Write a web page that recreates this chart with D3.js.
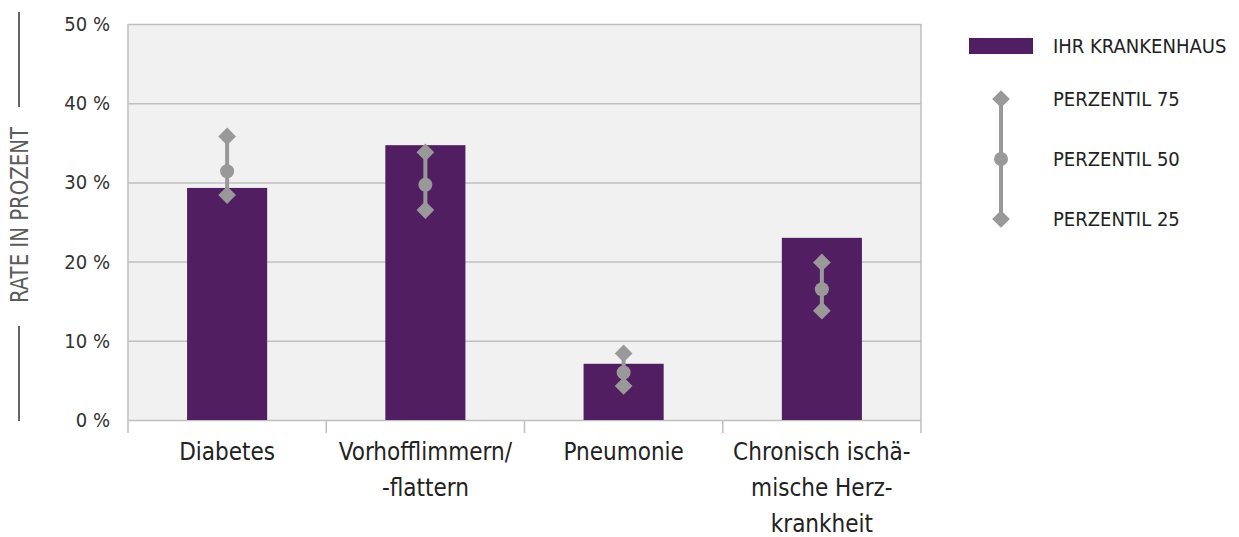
<!DOCTYPE html>
<html>
<head>
<meta charset="utf-8">
<script src="https://cdn.jsdelivr.net/npm/d3@7"></script>
<style>
  html, body { margin: 0; padding: 0; background: #fff; }
  svg { display: block; font-family: "DejaVu Sans Condensed", "DejaVu Sans", sans-serif; }
</style>
</head>
<body>
<svg id="chart" width="1239" height="537"></svg>
<script>
// Indicator rates per diagnosis group
const categories = [
  ["Diabetes"],
  ["Vorhofflimmern/", "-flattern"],
  ["Pneumonie"],
  ["Chronisch ischä-", "mische Herz-", "krankheit"]
];
const hospitalRate = [29.3, 34.7, 7.1, 23.0];   // IHR KRANKENHAUS
const perzentil75  = [35.8, 33.8, 8.4, 19.9];
const perzentil50  = [31.4, 29.7, 6.0, 16.5];
const perzentil25  = [28.4, 26.5, 4.3, 13.8];
const yTicks = [0, 10, 20, 30, 40, 50];
const legendLabels = ["IHR KRANKENHAUS", "PERZENTIL 75", "PERZENTIL 50", "PERZENTIL 25"];
const yTitle = "RATE IN PROZENT";

const barColor = "#521e62";
const markColor = "#999999";
const gridColor = "#bfbfbf";

const svg = d3.select("#chart");
const plot = { left: 128, right: 921, top: 24, bottom: 420 };

const x = d3.scaleBand()
  .domain(d3.range(categories.length))
  .range([plot.left, plot.right])
  .padding(0);
const y = d3.scaleLinear().domain([0, 50]).range([plot.bottom, plot.top]);

// plot background
svg.append("rect")
  .attr("x", plot.left).attr("y", plot.top)
  .attr("width", plot.right - plot.left).attr("height", plot.bottom - plot.top)
  .attr("fill", "#f1f1f1");

// horizontal gridlines + y tick labels
const yAxis = d3.axisLeft(y)
  .tickValues(yTicks)
  .tickSize(-(plot.right - plot.left))
  .tickPadding(18)
  .tickFormat(d => d + " %");
const gy = svg.append("g").attr("transform", `translate(${plot.left},0)`).call(yAxis);
gy.select(".domain").remove();
gy.selectAll(".tick line").attr("stroke", gridColor).attr("stroke-width", 1.5);
gy.selectAll(".tick text")
  .attr("fill", "#333")
  .style("font-size", "20px")
  .style("font-family", "'DejaVu Sans Condensed', sans-serif");

// frame: left and right edges
svg.append("line")
  .attr("x1", plot.left).attr("x2", plot.left)
  .attr("y1", plot.top).attr("y2", plot.bottom + 13)
  .attr("stroke", gridColor).attr("stroke-width", 1.5);
svg.append("line")
  .attr("x1", plot.right).attr("x2", plot.right)
  .attr("y1", plot.top).attr("y2", plot.bottom + 13)
  .attr("stroke", gridColor).attr("stroke-width", 1.5);

// category separator ticks below the baseline
const bounds = d3.range(1, categories.length).map(i => x(i));
svg.selectAll("line.sep").data(bounds).join("line")
  .attr("class", "sep")
  .attr("x1", d => d).attr("x2", d => d)
  .attr("y1", plot.bottom).attr("y2", plot.bottom + 13)
  .attr("stroke", gridColor).attr("stroke-width", 1.5);

// bars
const barW = x.bandwidth() * 0.404;
svg.selectAll("rect.bar").data(hospitalRate).join("rect")
  .attr("class", "bar")
  .attr("x", (d, i) => x(i) + x.bandwidth() / 2 - barW / 2)
  .attr("y", d => y(d))
  .attr("width", barW)
  .attr("height", d => y(0) - y(d))
  .attr("fill", barColor);

// percentile markers
const cx = i => x(i) + x.bandwidth() / 2;
const diamond = d3.symbol().type(d3.symbolDiamond2).size(200);
const pct = hospitalRate.map((_, i) => ({ i, p75: perzentil75[i], p50: perzentil50[i], p25: perzentil25[i] }));
const pg = svg.append("g");
pg.selectAll("line").data(pct).join("line")
  .attr("x1", d => cx(d.i)).attr("x2", d => cx(d.i))
  .attr("y1", d => y(d.p75)).attr("y2", d => y(d.p25))
  .attr("stroke", markColor).attr("stroke-width", 4);
pg.selectAll("path.p75").data(pct).join("path")
  .attr("class", "p75")
  .attr("d", diamond)
  .attr("transform", d => `translate(${cx(d.i)},${y(d.p75)})`)
  .attr("fill", markColor);
pg.selectAll("path.p25").data(pct).join("path")
  .attr("class", "p25")
  .attr("d", diamond)
  .attr("transform", d => `translate(${cx(d.i)},${y(d.p25)})`)
  .attr("fill", markColor);
pg.selectAll("circle").data(pct).join("circle")
  .attr("cx", d => cx(d.i)).attr("cy", d => y(d.p50))
  .attr("r", 7)
  .attr("fill", markColor);

// category labels (multi-line)
const lab = svg.selectAll("text.cat").data(categories).join("text")
  .attr("class", "cat")
  .attr("text-anchor", "middle")
  .attr("fill", "#222")
  .style("font-size", "24px");
lab.selectAll("tspan").data((d, i) => d.map(t => ({ t, i }))).join("tspan")
  .attr("x", d => cx(d.i))
  .attr("y", (d, j) => 460 + j * 36)
  .text(d => d.t);

// y-axis title with rules above and below
svg.append("text")
  .attr("transform", "translate(28,215) rotate(-90)")
  .attr("text-anchor", "middle")
  .attr("fill", "#5c5c5c")
  .attr("textLength", 176)
  .attr("lengthAdjust", "spacingAndGlyphs")
  .style("font-size", "24px")
  .text(yTitle);
svg.append("line").attr("x1", 19).attr("x2", 19).attr("y1", 12).attr("y2", 107)
  .attr("stroke", "#666").attr("stroke-width", 2);
svg.append("line").attr("x1", 19).attr("x2", 19).attr("y1", 326).attr("y2", 421)
  .attr("stroke", "#666").attr("stroke-width", 2);

// legend
const lg = svg.append("g");
lg.append("rect").attr("x", 969).attr("y", 38).attr("width", 64).attr("height", 16).attr("fill", barColor);
const legY = [46, 99, 159, 219];
lg.append("line").attr("x1", 1001).attr("x2", 1001).attr("y1", legY[1]).attr("y2", legY[3])
  .attr("stroke", markColor).attr("stroke-width", 4);
lg.append("path").attr("d", diamond).attr("transform", `translate(1001,${legY[1]})`).attr("fill", markColor);
lg.append("circle").attr("cx", 1001).attr("cy", legY[2]).attr("r", 7).attr("fill", markColor);
lg.append("path").attr("d", diamond).attr("transform", `translate(1001,${legY[3]})`).attr("fill", markColor);
lg.selectAll("text").data(legendLabels).join("text")
  .attr("x", 1053)
  .attr("y", (d, i) => legY[i])
  .attr("dy", "0.36em")
  .attr("fill", "#222")
  .style("font-size", "20px")
  .text(d => d);
</script>
</body>
</html>
